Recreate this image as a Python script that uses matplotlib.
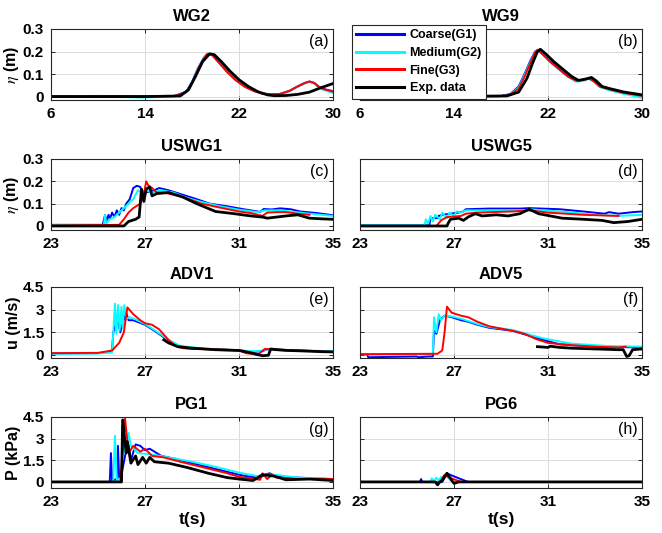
import numpy as np
import matplotlib.pyplot as plt

plt.rcParams['font.family'] = ['Liberation Sans', 'DejaVu Sans']
plt.rcParams['mathtext.fontset'] = 'stix'

# ---- (a) WG2 ----
wg2_t_sim = [6, 10, 14, 16.5, 17.5, 18, 18.5, 19, 19.3, 19.7, 20.3, 21, 21.7, 22.5, 23.3, 24, 24.8, 25.5, 26.3, 27, 27.6, 28.0, 28.4, 28.8, 29.2, 30]
wg2_blue = [0.002, 0.003, 0.002, 0.003, 0.022, 0.065, 0.125, 0.172, 0.19, 0.186, 0.152, 0.112, 0.077, 0.046, 0.026, 0.014, 0.01, 0.012, 0.026, 0.046, 0.061, 0.067, 0.061, 0.044, 0.034, 0.024]
wg2_cyan = [-0.002, 0.0, -0.004, 0.002, 0.02, 0.062, 0.122, 0.17, 0.188, 0.184, 0.15, 0.11, 0.075, 0.045, 0.025, 0.013, 0.009, 0.011, 0.024, 0.044, 0.059, 0.066, 0.058, 0.04, 0.03, 0.016]
wg2_red = [0.001, 0.001, 0.001, 0.002, 0.02, 0.06, 0.12, 0.168, 0.188, 0.185, 0.15, 0.108, 0.073, 0.043, 0.024, 0.013, 0.01, 0.012, 0.025, 0.045, 0.06, 0.067, 0.06, 0.043, 0.033, 0.022]
wg2_t_exp = [6, 10, 14, 17, 17.7, 18.3, 18.9, 19.5, 19.9, 20.5, 21.2, 22, 22.8, 23.6, 24.4, 25, 26, 27, 28, 29, 30]
wg2_exp = [0.0, 0.0, 0.0, 0.003, 0.03, 0.09, 0.155, 0.19, 0.186, 0.155, 0.115, 0.075, 0.045, 0.022, 0.008, 0.004, 0.005, 0.01, 0.02, 0.04, 0.058]

# ---- (b) WG9 ----
wg9_t_sim = [6, 12, 18, 18.8, 19.5, 20.0, 20.5, 20.9, 21.15, 21.5, 22.2, 23.0, 23.7, 24.4, 25.0, 25.5, 25.9, 26.4, 27.1, 28.3, 30]
wg9_blue = [0.002, 0.002, 0.003, 0.012, 0.045, 0.1, 0.16, 0.2, 0.208, 0.19, 0.155, 0.12, 0.09, 0.07, 0.074, 0.082, 0.07, 0.046, 0.035, 0.02, 0.005]
wg9_cyan = [0.0, 0.0, 0.002, 0.01, 0.04, 0.095, 0.155, 0.198, 0.206, 0.188, 0.152, 0.117, 0.087, 0.066, 0.07, 0.079, 0.066, 0.042, 0.03, 0.014, -0.006]
wg9_red = [0.001, 0.001, 0.002, 0.008, 0.035, 0.088, 0.15, 0.196, 0.206, 0.19, 0.154, 0.119, 0.089, 0.07, 0.074, 0.08, 0.068, 0.045, 0.034, 0.018, 0.003]
wg9_t_exp = [6, 12, 18.5, 19.5, 20.2, 20.7, 21.1, 21.35, 21.8, 22.5, 23.3, 24.0, 24.6, 25.2, 25.7, 26.1, 26.6, 27.3, 28.5, 30]
wg9_exp = [0.0, 0.0, 0.003, 0.02, 0.08, 0.15, 0.2, 0.21, 0.19, 0.155, 0.12, 0.09, 0.072, 0.078, 0.085, 0.07, 0.045, 0.035, 0.02, 0.008]

# ---- (c) USWG1 ----
uswg1_t_blue = [23, 25.2, 25.3, 25.35, 25.45, 25.5, 25.6, 25.7, 25.8, 25.9, 26.0, 26.1, 26.2, 26.35, 26.5, 26.65, 26.8, 26.9, 27.0, 27.3, 27.6, 28.0, 28.6, 29.2, 29.75, 30.5, 31.2, 31.9, 32.05, 32.4, 32.75, 33.2, 33.6, 34.3, 35]
uswg1_blue = [0.005, 0.005, 0.05, 0.02, 0.05, 0.03, 0.06, 0.04, 0.07, 0.05, 0.08, 0.07, 0.1, 0.12, 0.17, 0.18, 0.175, 0.14, 0.15, 0.155, 0.17, 0.16, 0.14, 0.12, 0.1, 0.088, 0.075, 0.063, 0.076, 0.074, 0.079, 0.075, 0.065, 0.058, 0.048]
uswg1_t_cyan = [23, 25.25, 25.3, 25.35, 25.5, 25.7, 25.9, 26.1, 26.3, 26.5, 26.7, 26.85, 27.0, 27.3, 27.7, 28.2, 28.8, 29.5, 30.2, 31.0, 31.8, 32.1, 32.6, 33.2, 34.0, 35]
uswg1_cyan = [0.005, 0.005, 0.05, 0.01, 0.03, 0.04, 0.06, 0.08, 0.1, 0.12, 0.16, 0.15, 0.16, 0.15, 0.16, 0.15, 0.125, 0.105, 0.088, 0.073, 0.062, 0.07, 0.07, 0.065, 0.055, 0.045]
uswg1_t_red = [23, 25.9, 26.1, 26.3, 26.5, 26.8, 26.95, 27.05, 27.15, 27.3, 27.5, 27.8, 28.2, 28.6, 29.4, 30.3, 31.0, 31.5, 32.0, 32.2, 32.6, 33.0, 33.5, 34.0]
uswg1_red = [0.002, 0.005, 0.03, 0.06, 0.08, 0.1, 0.14, 0.2, 0.18, 0.17, 0.15, 0.15, 0.14, 0.13, 0.1, 0.08, 0.065, 0.058, 0.045, 0.06, 0.062, 0.062, 0.055, 0.05]
uswg1_t_exp = [23, 26.1, 26.3, 26.6, 26.75, 26.85, 26.95, 27.05, 27.2, 27.3, 27.5, 28.0, 28.6, 29.2, 30.0, 30.8, 31.5, 32.0, 32.2, 32.6, 33.0, 33.5, 34.0, 34.5, 35]
uswg1_exp = [0.0, 0.0, 0.02, 0.03, 0.04, 0.165, 0.11, 0.165, 0.175, 0.135, 0.145, 0.15, 0.13, 0.1, 0.065, 0.055, 0.045, 0.04, 0.035, 0.04, 0.045, 0.05, 0.035, 0.032, 0.03]

# ---- (d) USWG5 ----
uswg5_t_blue = [23, 25.95, 26.0, 26.3, 26.35, 26.5, 27.2, 27.4, 27.5, 28.5, 29.8, 30.2, 31.5, 32.5, 33.4, 33.6, 34.0, 34.6, 35]
uswg5_blue = [0.003, 0.003, 0.035, 0.035, 0.045, 0.05, 0.06, 0.065, 0.075, 0.078, 0.078, 0.08, 0.075, 0.065, 0.055, 0.062, 0.055, 0.062, 0.065]
uswg5_t_cyan = [23, 25.75, 25.8, 25.9, 26.0, 26.1, 26.2, 26.4, 26.5, 26.7, 26.8, 27.0, 27.1, 27.3, 27.5, 28.5, 30.0, 30.2, 31.5, 33.0, 34.0, 35]
uswg5_cyan = [0.003, 0.003, 0.03, 0.01, 0.045, 0.02, 0.05, 0.03, 0.06, 0.035, 0.06, 0.045, 0.065, 0.06, 0.07, 0.07, 0.07, 0.075, 0.065, 0.05, 0.045, 0.05]
uswg5_t_red = [23, 26.25, 26.45, 26.7, 27.3, 27.5, 28.0, 29.5, 30.2, 31.0, 32.5, 34.0]
uswg5_red = [0.0, 0.0, 0.025, 0.04, 0.045, 0.055, 0.06, 0.065, 0.07, 0.06, 0.05, 0.045]
uswg5_t_exp = [23, 26.7, 26.75, 26.85, 27.2, 27.4, 27.6, 27.9, 28.2, 28.8, 29.3, 29.8, 30.2, 30.6, 31.1, 31.6, 32.5, 33.3, 33.8, 34.4, 35]
uswg5_exp = [0.0, 0.0, 0.012, 0.03, 0.035, 0.025, 0.04, 0.055, 0.045, 0.05, 0.045, 0.055, 0.075, 0.055, 0.045, 0.035, 0.03, 0.025, 0.015, 0.02, 0.03]

# ---- (e) ADV1 ----
adv1_t_blue = [23, 25.0, 25.5, 25.6, 25.65, 25.75, 25.85, 25.95, 26.05, 26.2, 26.3, 26.5, 27.0, 27.5, 28.0, 28.5, 29.5, 31.0, 31.5, 32.0, 32.2, 32.6, 33.5, 35]
adv1_blue = [0.1, 0.12, 0.2, 0.3, 1.5, 2.0, 2.2, 1.5, 2.1, 2.8, 2.3, 2.3, 2.0, 1.5, 0.95, 0.55, 0.4, 0.3, 0.2, 0.25, 0.38, 0.35, 0.3, 0.22]
adv1_t_cyan = [23, 25.0, 25.6, 25.72, 25.78, 25.85, 25.92, 26.0, 26.05, 26.12, 26.2, 26.35, 26.6, 27.0, 27.5, 28.0, 28.5, 29.5, 31.0, 31.5, 32.0, 32.2, 32.7, 33.5, 35]
adv1_cyan = [0.08, 0.1, 0.15, 3.4, 1.4, 3.3, 1.6, 3.2, 1.8, 3.3, 2.4, 2.5, 2.35, 2.05, 1.55, 1.0, 0.6, 0.42, 0.32, 0.25, 0.28, 0.4, 0.36, 0.3, 0.25]
adv1_t_red = [23, 25.0, 25.6, 25.9, 26.1, 26.25, 26.5, 26.8, 27.0, 27.3, 27.6, 28.0, 28.3, 28.6, 29.0, 29.8, 30.5, 31.0, 31.3, 31.8, 32.1, 32.8, 33.5, 35]
adv1_red = [0.12, 0.14, 0.3, 0.8, 1.5, 3.15, 2.7, 2.3, 2.1, 2.0, 1.7, 1.0, 0.6, 0.45, 0.4, 0.38, 0.35, 0.3, 0.12, 0.02, 0.4, 0.35, 0.3, 0.2]
adv1_t_exp = [27.8, 28.0, 28.4, 29.0, 29.5, 30.0, 30.5, 31.0, 31.5, 31.8, 32.0, 32.25, 32.35, 32.6, 33.0, 33.5, 34.0, 34.5, 35]
adv1_exp = [1.0, 0.8, 0.55, 0.45, 0.4, 0.35, 0.32, 0.3, 0.15, 0.02, -0.05, -0.02, 0.4, 0.35, 0.3, 0.28, 0.25, 0.22, 0.2]

# ---- (f) ADV5 ----
adv5_t_blue = [23.0, 23.3, 23.35, 25.4, 25.5, 25.9, 26.1, 26.15, 26.25, 26.4, 26.6, 26.9, 27.3, 27.6, 28.0, 28.5, 29.5, 30.8, 31.5, 33.0, 35]
adv5_blue = [0.05, 0.05, -0.15, -0.1, -0.15, -0.1, -0.1, 1.6, 1.4, 2.3, 2.6, 2.5, 2.3, 2.2, 2.0, 1.8, 1.6, 1.0, 0.7, 0.55, 0.5]
adv5_t_cyan = [23, 26.0, 26.1, 26.15, 26.25, 26.35, 26.45, 26.6, 26.9, 27.3, 28.0, 28.5, 29.5, 30.8, 32.0, 33.5, 35]
adv5_cyan = [0.05, 0.05, 0.1, 2.5, 1.5, 2.7, 2.3, 2.6, 2.55, 2.4, 2.05, 1.85, 1.65, 1.1, 0.75, 0.6, 0.55]
adv5_t_red = [23, 26.3, 26.5, 26.6, 26.7, 26.9, 27.3, 27.6, 28.0, 28.5, 29.5, 30.0, 30.5, 31.0, 32.0, 33.0, 34.0, 34.3]
adv5_red = [0.05, 0.08, 0.3, 1.5, 3.2, 2.8, 2.6, 2.5, 2.2, 1.9, 1.6, 1.4, 1.05, 0.8, 0.65, 0.55, 0.5, 0.55]
adv5_t_exp = [30.55, 31.0, 31.1, 31.5, 32.0, 33.0, 34.0, 34.2, 34.35, 34.45, 34.6, 35]
adv5_exp = [0.55, 0.5, 0.58, 0.5, 0.45, 0.4, 0.35, 0.35, -0.1, -0.05, 0.35, 0.4]

# ---- (g) PG1 ----
pg1_t_blue = [23, 25.5, 25.55, 25.6, 25.8, 25.85, 25.9, 26.0, 26.2, 26.3, 26.4, 26.6, 26.8, 27.0, 27.2, 27.4, 27.7, 28.3, 29.0, 30.0, 31.0, 31.5, 31.9, 32.1, 32.3, 32.6, 33.5, 35]
pg1_blue = [0.0, 0.0, 2.0, 0.1, 0.2, 2.5, 0.3, 0.5, 2.2, 2.5, 1.5, 2.6, 2.5, 2.2, 2.3, 2.1, 1.8, 1.6, 1.3, 0.9, 0.5, 0.35, 0.3, 0.5, 0.6, 0.35, 0.3, 0.2]
pg1_t_cyan = [23, 25.65, 25.72, 25.8, 26.0, 26.05, 26.15, 26.3, 26.4, 26.7, 27.3, 28.0, 29.0, 30.0, 31.0, 31.8, 32.0, 32.5, 33.5, 34.5, 35]
pg1_cyan = [0.0, 0.0, 3.2, 0.1, 0.3, 3.4, 2.0, 3.4, 2.5, 2.0, 1.9, 1.7, 1.4, 1.05, 0.65, 0.4, 0.5, 0.5, 0.3, 0.25, 0.15]
pg1_t_red = [23, 25.95, 26.1, 26.15, 26.3, 26.5, 26.8, 27.0, 27.3, 27.8, 28.5, 29.5, 30.5, 31.0, 31.5, 31.9, 32.0, 32.2, 32.4, 32.6, 33.5, 35]
pg1_red = [0.0, 0.0, 3.0, 4.4, 2.0, 2.5, 2.1, 2.3, 1.8, 1.7, 1.4, 1.0, 0.6, 0.35, 0.25, 0.15, 0.6, 0.2, 0.5, 0.3, 0.2, 0.2]
pg1_t_exp = [23, 26.0, 26.05, 26.2, 26.25, 26.4, 26.6, 26.7, 26.9, 27.05, 27.2, 27.4, 28.0, 28.8, 29.7, 30.5, 31.0, 31.6, 32.0, 32.5, 33.0, 34.0, 35]
pg1_exp = [0.0, 0.0, 4.3, 2.0, 2.8, 1.3, 1.8, 1.2, 1.7, 1.3, 1.7, 1.4, 1.3, 1.0, 0.6, 0.3, 0.2, 0.1, 0.5, 0.4, 0.15, 0.2, 0.1]

# ---- (h) PG6 ----
pg6_t_blue = [23, 25.55, 25.6, 25.65, 26.5, 26.7, 26.9, 27.6, 35]
pg6_blue = [0.0, 0.0, 0.2, 0.0, 0.0, 0.6, 0.45, 0.0, 0.0]
pg6_t_cyan = [23, 26.0, 26.05, 26.15, 26.25, 26.35, 26.45, 26.7, 26.85, 27.0, 35]
pg6_cyan = [0.0, 0.0, 0.25, 0.05, 0.3, 0.1, 0.35, 0.4, 0.1, 0.0, 0.0]
pg6_t_red = [23, 26.4, 26.6, 26.8, 27.3, 35]
pg6_red = [0.0, 0.0, 0.5, 0.3, 0.0, 0.0]
pg6_t_exp = [23, 26.2, 26.3, 26.4, 26.5, 26.7, 26.95, 27.0, 27.2, 35]
pg6_exp = [0.0, 0.0, -0.2, 0.0, 0.1, 0.6, 0.0, -0.1, 0.0, 0.0]

titles = ['WG2', 'WG9', 'USWG1', 'USWG5', 'ADV1', 'ADV5', 'PG1', 'PG6']
letters = ['(a)', '(b)', '(c)', '(d)', '(e)', '(f)', '(g)', '(h)']
series = [
    [(wg2_t_sim, wg2_blue), (wg2_t_sim, wg2_cyan), (wg2_t_sim, wg2_red), (wg2_t_exp, wg2_exp)],
    [(wg9_t_sim, wg9_blue), (wg9_t_sim, wg9_cyan), (wg9_t_sim, wg9_red), (wg9_t_exp, wg9_exp)],
    [(uswg1_t_blue, uswg1_blue), (uswg1_t_cyan, uswg1_cyan), (uswg1_t_red, uswg1_red), (uswg1_t_exp, uswg1_exp)],
    [(uswg5_t_blue, uswg5_blue), (uswg5_t_cyan, uswg5_cyan), (uswg5_t_red, uswg5_red), (uswg5_t_exp, uswg5_exp)],
    [(adv1_t_blue, adv1_blue), (adv1_t_cyan, adv1_cyan), (adv1_t_red, adv1_red), (adv1_t_exp, adv1_exp)],
    [(adv5_t_blue, adv5_blue), (adv5_t_cyan, adv5_cyan), (adv5_t_red, adv5_red), (adv5_t_exp, adv5_exp)],
    [(pg1_t_blue, pg1_blue), (pg1_t_cyan, pg1_cyan), (pg1_t_red, pg1_red), (pg1_t_exp, pg1_exp)],
    [(pg6_t_blue, pg6_blue), (pg6_t_cyan, pg6_cyan), (pg6_t_red, pg6_red), (pg6_t_exp, pg6_exp)],
]
names = ['Coarse(G1)', 'Medium(G2)', 'Fine(G3)', 'Exp. data']
colors = ['#0000ff', '#00ffff', '#ff0000', '#000000']
widths = [1.4, 1.4, 1.4, 2.0]

ylims = [(-0.015, 0.3), (-0.018, 0.3), (-0.2, 4.5), (-0.42, 4.5)]
yticks = [[0, 0.1, 0.2, 0.3], [0, 0.1, 0.2, 0.3], [0, 1.5, 3, 4.5], [0, 1.5, 3, 4.5]]
ylabels = [r'$\eta$ (m)', r'$\eta$ (m)', 'u (m/s)', 'P (kPa)']

W, H = 662, 533
fig = plt.figure(figsize=(W / 100, H / 100), dpi=100)
lefts = [51, 360]
tops = [29, 159, 287, 417]
aw, ah = 282, 71

for i in range(8):
    r, c = divmod(i, 2)
    ax = fig.add_axes([lefts[c] / W, 1 - (tops[r] + ah) / H, aw / W, ah / H])
    for k, (t, v) in enumerate(series[i]):
        ax.plot(t, v, color=colors[k], lw=widths[k], label=names[k])
    if r == 0:
        ax.set_xlim(6, 30)
        ax.set_xticks([6, 14, 22, 30])
    else:
        ax.set_xlim(23, 35)
        ax.set_xticks([23, 27, 31, 35])
    ax.set_ylim(*ylims[r])
    ax.set_yticks(yticks[r])
    ax.set_yticklabels([('%g' % y) for y in yticks[r]])
    ax.grid(True, color='#dcdcdc', lw=0.7)
    ax.set_axisbelow(True)
    ax.tick_params(direction='in', length=3, width=0.7, top=True, right=True,
                   labelsize=11, colors='#262626', pad=5)
    for lab in ax.get_xticklabels() + ax.get_yticklabels():
        lab.set_fontweight('bold')
        lab.set_color('black')
    for s in ax.spines.values():
        s.set_color('#262626')
        s.set_linewidth(0.8)
    if c == 1:
        ax.set_yticklabels([])
    else:
        ax.set_ylabel(ylabels[r], fontsize=11.5, fontweight='bold', labelpad=1)
    ax.set_title(titles[i], fontsize=12, fontweight='bold', pad=6)
    ax.text(0.985, 0.93, letters[i], transform=ax.transAxes, ha='right', va='top', fontsize=11.5)
    if r == 3:
        ax.set_xlabel('t(s)', fontsize=12.5, fontweight='bold', labelpad=2)
    if i == 0:
        handles, labs = ax.get_legend_handles_labels()

leg = fig.legend(handles, labs, loc='upper left', bbox_to_anchor=(352 / W, 1 - 25 / H),
                 fancybox=False, framealpha=1, edgecolor='#262626', handlelength=3.8,
                 borderpad=0.35, labelspacing=0.45, handletextpad=0.45, borderaxespad=0,
                 prop={'weight': 'bold', 'size': 9})
leg.get_frame().set_linewidth(0.8)
for ln in leg.get_lines():
    ln.set_linewidth(2.2)

fig.savefig('out.png', dpi=100)
